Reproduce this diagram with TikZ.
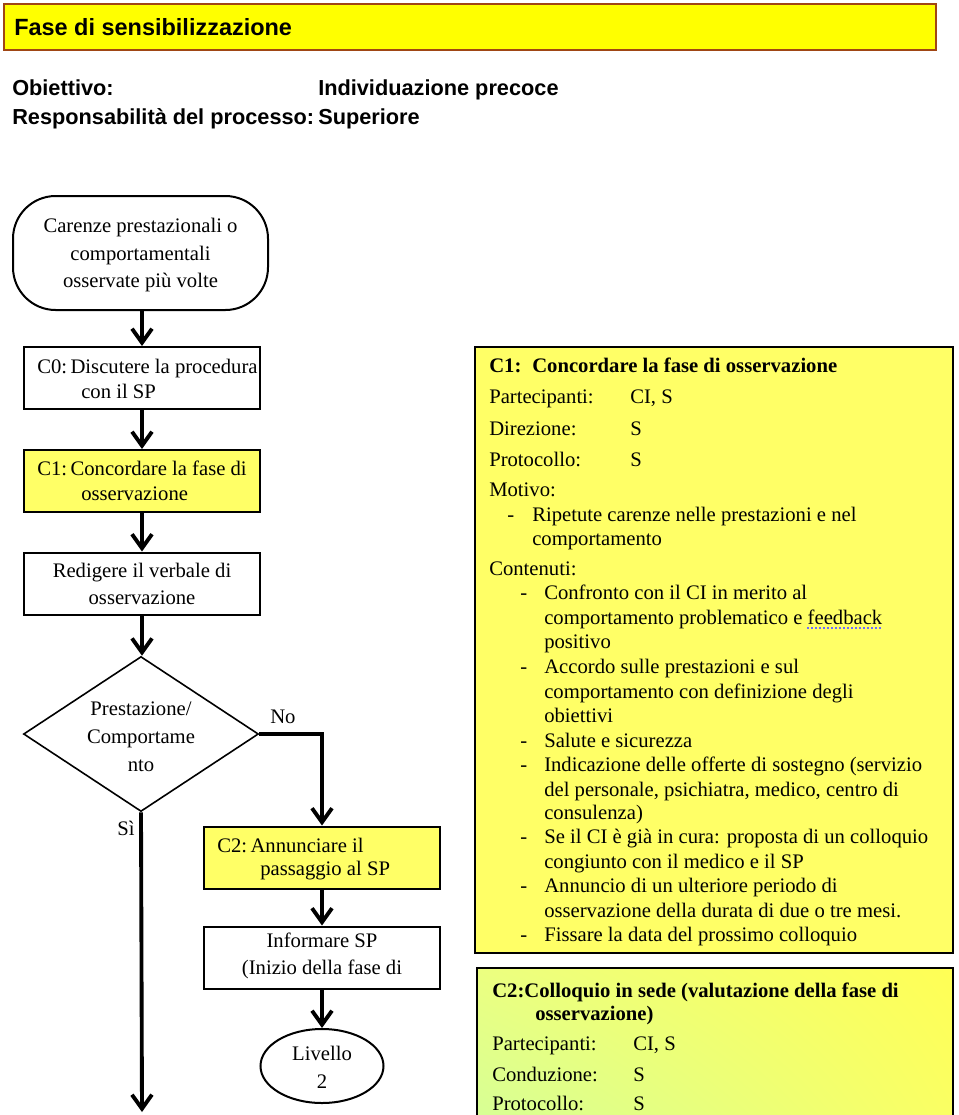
\documentclass[tikz,border=0pt]{standalone}
\usepackage{fontspec}
\setmainfont{Liberation Serif}
\newfontfamily\hdfont{Liberation Sans}
\usetikzlibrary{arrows.meta,shapes.geometric,shadings}
\definecolor{titleyel}{RGB}{255,255,0}
\definecolor{titlebrd}{RGB}{160,70,20}
\definecolor{boxyel}{RGB}{255,255,102}
\definecolor{gA}{RGB}{236,255,128}
\definecolor{gB}{RGB}{255,255,85}
\definecolor{gC}{RGB}{214,255,150}
\definecolor{gD}{RGB}{250,255,100}
\definecolor{spell}{RGB}{110,110,255}
\newcommand\bodyfnt{\fontsize{15.5pt}{18.5pt}\selectfont}
\begin{document}
\begin{tikzpicture}[x=0.75pt,y=-0.75pt,
  txt/.style={anchor=base west,inner sep=0pt,font=\bodyfnt},
  ctxt/.style={anchor=base,inner sep=0pt,font=\bodyfnt},
  btxt/.style={anchor=base west,inner sep=0pt,font=\bodyfnt\bfseries},
  hd/.style={anchor=base west,inner sep=0pt,font=\hdfont\bfseries\fontsize{16.3pt}{19pt}\selectfont},
  flowbox/.style={draw,line width=1.5pt,minimum width=177pt,minimum height=46.5pt,inner sep=0pt},
  arr/.style={line width=2.9pt,-{Straight Barb[length=10.5pt,width=15pt]}}
]
\useasboundingbox (0,0) rectangle (958,1115);
\fill[white] (0,0) rectangle (958,1115);

% title
\node[draw=titlebrd,fill=titleyel,line width=1.5pt,minimum width=699pt,minimum height=34.5pt,inner sep=0pt] (title) at (470,27) {};
\node[anchor=base west,inner sep=0pt,font=\hdfont\bfseries\fontsize{17.6pt}{20pt}\selectfont] (titletxt) at (14,35) {Fase di sensibilizzazione};

\node[hd] (obj) at (12,95) {Obiettivo:};
\node[hd] (objv) at (318,95) {Individuazione precoce};
\node[hd] (resp) at (12,124) {Responsabilità del processo:};
\node[hd] (respv) at (318,124) {Superiore};

% right panel C1
\node[draw,fill=boxyel,line width=1.5pt,minimum width=358.5pt,minimum height=454.5pt,inner sep=0pt] (panelA) at (714,650) {};
\node[btxt] (pa1) at (489,372) {C1:};
\node[btxt] (pa1b) at (532,372) {Concordare la fase di osservazione};
\node[txt] (pa2) at (489,403) {Partecipanti:};
\node[txt] (pa2v) at (630,403) {CI, S};
\node[txt] (pa3) at (489,435) {Direzione:};
\node[txt] (pa3v) at (630,435) {S};
\node[txt] (pa4) at (489,466) {Protocollo:};
\node[txt] (pa4v) at (630,466) {S};
\node[txt] (pa5) at (489,496) {Motivo:};
\node[txt] (pa6d) at (507,521) {-};
\node[txt] (pa6) at (532,521) {Ripetute carenze nelle prestazioni e nel};
\node[txt] (pa7) at (532,545) {comportamento};
\node[txt] (pa8) at (489,575) {Contenuti:};
\node[txt] (pb1d) at (520,599) {-};
\node[txt] (pb1) at (544,599) {Confronto con il CI in merito al};
\node[txt] (pb2) at (544,624) {comportamento problematico e feedback};
\node[txt] (pb3) at (544,648) {positivo};
\node[txt] (pb4d) at (520,673) {-};
\node[txt] (pb4) at (544,673) {Accordo sulle prestazioni e sul};
\node[txt] (pb5) at (544,698) {comportamento con definizione degli};
\node[txt] (pb6) at (544,722) {obiettivi};
\node[txt] (pb7d) at (520,747) {-};
\node[txt] (pb7) at (544,747) {Salute e sicurezza};
\node[txt] (pb8d) at (520,771) {-};
\node[txt] (pb8) at (544,771) {Indicazione delle offerte di sostegno (servizio};
\node[txt] (pb9) at (544,796) {del personale, psichiatra, medico, centro di};
\node[txt] (pb10) at (544,819) {consulenza)};
\node[txt] (pb11d) at (520,843) {-};
\node[txt] (pb11) at (544,843) {Se il CI è già in cura: proposta di un colloquio};
\node[txt] (pb12) at (544,868) {congiunto con il medico e il SP};
\node[txt] (pb13d) at (520,892) {-};
\node[txt] (pb13) at (544,892) {Annuncio di un ulteriore periodo di};
\node[txt] (pb14) at (544,917) {osservazione della durata di due o tre mesi.};
\node[txt] (pb15d) at (520,941) {-};
\node[txt] (pb15) at (544,941) {Fissare la data del prossimo colloquio};
\draw[spell,line width=1pt,dash pattern=on 1.5pt off 1.5pt] (807,628) -- (882,628);

% right panel C2
\shade[upper left=gA,upper right=gB,lower left=gC,lower right=gD] (477,968) rectangle (953,1125);
\draw[line width=1.5pt] (477,1125) -- (477,968) -- (953,968) -- (953,1125);
\node[btxt] (pc1) at (492,997) {C2:Colloquio in sede (valutazione della fase di};
\node[btxt] (pc2) at (535,1020) {osservazione)};
\node[txt] (pc3) at (492,1050) {Partecipanti:};
\node[txt] (pc3v) at (633,1050) {CI, S};
\node[txt] (pc4) at (492,1081) {Conduzione:};
\node[txt] (pc4v) at (633,1081) {S};
\node[txt] (pc5) at (492,1110) {Protocollo:};
\node[txt] (pc5v) at (633,1110) {S};

% flowchart
\node[draw,line width=1.5pt,rounded corners=32pt,minimum width=191.25pt,minimum height=85.5pt,inner sep=0pt] (start) at (140.5,253) {};
\node[ctxt] (s1) at (140.5,232) {Carenze prestazionali o};
\node[ctxt] (s2) at (140.5,260) {comportamentali};
\node[ctxt] (s3) at (140.5,287) {osservate più volte};

\node[flowbox] (c0) at (142,378) {};
\node[txt] (c0a) at (37,373) {C0:\,Discutere la procedura};
\node[txt] (c0b) at (81,398) {con il SP};

\node[flowbox,fill=boxyel] (c1) at (142,481) {};
\node[txt] (c1a) at (37,475) {C1:\,Concordare la fase di};
\node[txt] (c1b) at (81,500) {osservazione};

\node[flowbox] (red) at (142,583.5) {};
\node[ctxt] (r1) at (142,577) {Redigere il verbale di};
\node[ctxt] (r2) at (142,604) {osservazione};

\node[draw,diamond,line width=1.2pt,minimum width=176.25pt,minimum height=116.25pt,inner sep=0pt] (dec) at (141,734) {};
\node[ctxt] (d1) at (141,715) {Prestazione/};
\node[ctxt] (d2) at (141,743) {Comportame};
\node[ctxt] (d3) at (141,771) {nto};
\node[txt] (no) at (270,723) {No};
\node[txt] (si) at (117,835) {Sì};

\node[flowbox,fill=boxyel] (c2) at (322,857.5) {};
\node[txt] (c2a) at (217,852) {C2:\,Annunciare il};
\node[txt] (c2b) at (260,875) {passaggio al SP};

\node[flowbox] (inf) at (322,957.5) {};
\node[ctxt] (i1) at (322,947) {Informare SP};
\node[ctxt] (i2) at (322,974) {(Inizio della fase di};

\node[draw,ellipse,line width=1.5pt,minimum width=92.25pt,minimum height=55.5pt,inner sep=0pt] (ell) at (322,1066) {};
\node[ctxt] (e1) at (322,1060) {Livello};
\node[ctxt] (e2) at (322,1088) {2};

\coordinate (endpt) at (142,1112);

\draw[arr] (start.south -| c0.north) -- (c0.north);
\draw[arr] (c0.south) -- (c1.north);
\draw[arr] (c1.south) -- (red.north);
\draw[arr] (red.south) -- (red.south |- dec.north);
\draw[arr] (dec.east) -| (c2.north);
\draw[arr] (dec.south) -- (endpt);
\draw[arr] (c2.south) -- (inf.north);
\draw[arr] (inf.south) -- (ell.north);
\end{tikzpicture}
\end{document}
